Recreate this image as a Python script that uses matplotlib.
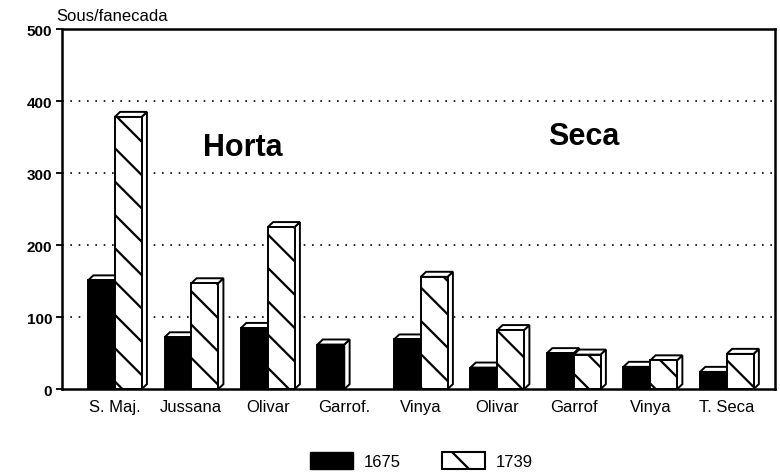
import numpy as np
import matplotlib
matplotlib.use("Agg")
import matplotlib.pyplot as plt
from matplotlib.patches import Polygon, Patch

plt.rcParams["font.family"] = ["Liberation Sans", "DejaVu Sans"]
plt.rcParams["hatch.linewidth"] = 1.6

categories = ["S. Maj.", "Jussana", "Olivar", "Garrof.", "Vinya",
              "Olivar", "Garrof", "Vinya", "T. Seca"]
vals_1675 = [151, 72, 85, 62, 69, 30, 50, 31, 24]
vals_1739 = [378, 147, 225, np.nan, 156, 82, 48, 40, 49]
years = ["1675", "1739"]

fig = plt.figure(figsize=(7.8, 4.77), dpi=100)
ax = fig.add_axes([0.0795, 0.182, 0.914, 0.755])

width = 0.35
dx, dy = 0.07, 7  # 3D depth


def bar3d(x, h, face, hatch, z):
    ax.bar(x, h, width=width, color=face, edgecolor="black", linewidth=1.4,
           hatch=hatch, zorder=z)
    xl, xr = x - width / 2, x + width / 2
    side = Polygon([(xr, 0), (xr + dx, dy), (xr + dx, h + dy), (xr, h)],
                   closed=True, facecolor="white", edgecolor="black",
                   linewidth=1.4, zorder=z - 0.5)
    top = Polygon([(xl, h), (xl + dx, h + dy), (xr + dx, h + dy), (xr, h)],
                  closed=True, facecolor="white", edgecolor="black",
                  linewidth=1.4, zorder=z - 0.5)
    ax.add_patch(side)
    ax.add_patch(top)


x = np.arange(len(categories))
for i in x:
    z = 3 + i * 2
    bar3d(i - width / 2, vals_1675[i], "black", None, z)
    if not np.isnan(vals_1739[i]):
        bar3d(i + width / 2, vals_1739[i], "white", "\\", z + 1)

ax.set_xlim(-0.69, 8.63)
ax.set_ylim(0, 500)
ax.set_yticks([0, 100, 200, 300, 400, 500])
ax.set_yticklabels(["0", "100", "200", "300", "400", "500"],
                   fontsize=11, fontweight="bold")
ax.set_xticks(x)
ax.set_xticklabels(categories, fontsize=12)
ax.tick_params(axis="x", length=0, pad=7)
ax.tick_params(axis="y", length=4, width=1.3, direction="out", pad=3)

for g in [100, 200, 300, 400]:
    ax.axhline(g, color="black", linestyle=(0, (1, 4)), linewidth=1.2, zorder=1)

for s in ax.spines.values():
    s.set_linewidth(1.8)

ax.text(1.68, 336, "Horta", fontsize=22, fontweight="bold", ha="center", va="center")
ax.text(6.13, 352, "Seca", fontsize=22, fontweight="bold", ha="center", va="center")

fig.text(0.072, 0.965, "Sous/fanecada", fontsize=12, ha="left", va="center")

handles = [Patch(facecolor="black", edgecolor="black", label=years[0]),
           Patch(facecolor="white", edgecolor="black", hatch="\\", linewidth=1.5,
                 label=years[1])]
fig.legend(handles=handles, loc="center", bbox_to_anchor=(0.54, 0.032), ncol=2,
           frameon=False, fontsize=12, handlelength=2.6, handleheight=1.2,
           handletextpad=0.6, columnspacing=2.5)

fig.savefig("out.png", dpi=100)
